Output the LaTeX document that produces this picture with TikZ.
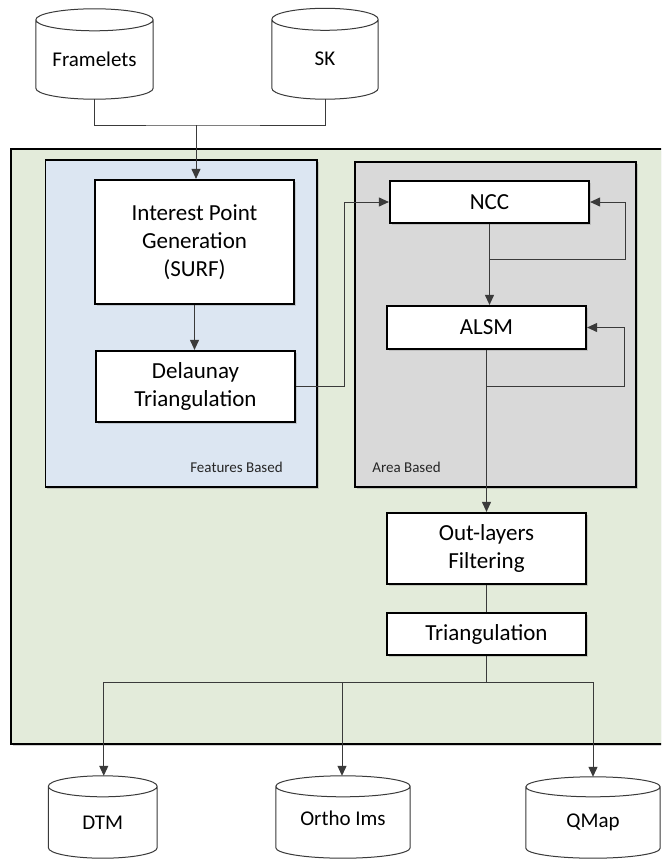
\documentclass[tikz,border=0pt]{standalone}
\usepackage{fontspec}
\setmainfont{Carlito}
\usetikzlibrary{arrows.meta,shadows,calc}
\definecolor{gfill}{HTML}{E3EBDA}
\definecolor{bfill}{HTML}{DCE6F2}
\definecolor{afill}{HTML}{D9D9D9}
\definecolor{cline}{HTML}{3A3A3A}
\tikzset{
  container/.style={draw=black, line width=1.8pt, inner sep=0pt,
    drop shadow={shadow xshift=1.5pt, shadow yshift=-1.5pt, opacity=0.35}},
  procbox/.style={draw=black, line width=2.2pt, fill=white, inner sep=0pt,
    minimum width=199pt, align=center, font=\fontsize{23}{28}\selectfont,
    drop shadow={shadow xshift=2pt, shadow yshift=-2pt, opacity=0.3}},
  cylnode/.style={inner sep=0pt, font=\fontsize{21}{25}\selectfont},
  conn/.style={draw=cline, line width=1pt},
  arr/.style={conn, -{Triangle[length=10pt,width=9pt]}},
  smalllbl/.style={font=\fontsize{15}{18}\selectfont, text=black!85, inner sep=0pt},
}
\newcommand\cylout[2]{%
  \draw[draw=cline, line width=1pt, fill=white]
    let \p1=(#1.north west), \p2=(#1.south east), \n1={(\x2-\x1)/2} in
    (\x1,\y1) -- (\x1,\y2+#2)
    arc[start angle=180, end angle=360, x radius=\n1, y radius=#2]
    -- (\x2,\y1)
    arc[start angle=0, end angle=180, x radius=\n1, y radius=#2] -- cycle
    (\x1,\y1) arc[start angle=180, end angle=360, x radius=\n1, y radius=#2];}
\begin{document}
\begin{tikzpicture}[x=1pt,y=-1pt]
\useasboundingbox (0,0) rectangle (661,859);
\clip (0,0) rectangle (661,859);
\fill[white] (0,0) rectangle (661,859);

% containers
\node[container, fill=gfill, minimum width=669pt, minimum height=595pt] (gbox) at (345.5,446.5) {};
\node[container, fill=bfill, line width=1.6pt, minimum width=271.5pt, minimum height=327pt] (fbox) at (181.25,323.5) {};
\node[container, fill=afill, line width=1.6pt, minimum width=281pt, minimum height=325pt] (abox) at (495.5,324.5) {};
\node[smalllbl] (fblabel) at (236.5,467) {Features Based};
\node[smalllbl] (ablabel) at (406.5,467) {Area Based};

% input cylinders
\node[cylnode, minimum width=117pt, minimum height=79pt] (fr) at (94.5,59.5) {};
\cylout{fr}{11pt}
\node[cylnode] at (fr.center) {Framelets};
\node[cylnode, minimum width=106pt, minimum height=79.5pt] (sk) at (325,59.25) {};
\cylout{sk}{11pt}
\node[cylnode] at (sk.center) {SK};

% process boxes
\node[procbox, minimum height=124pt] (ipg) at (194.5,242) {Interest Point\\Generation\\(SURF)};
\node[procbox, minimum height=71pt] (del) at (195.5,386.5) {Delaunay\\Triangulation};
\node[procbox, minimum height=42pt] (ncc) at (489.5,202) {NCC};
\node[procbox, minimum height=43pt] (alsm) at (486.5,327.5) {ALSM};
\node[procbox, minimum height=71pt] (outf) at (486.5,548.5) {Out-layers\\Filtering};
\node[procbox, minimum height=42pt] (tri) at (486.5,634) {Triangulation};

% output cylinders
\node[cylnode, minimum width=108.5pt, minimum height=71.5pt] (dtm) at (102.75,822.25) {};
\cylout{dtm}{10.5pt}
\node[cylnode] at ([yshift=-1pt]dtm.center) {DTM};
\node[cylnode, minimum width=134pt, minimum height=71.5pt] (orth) at (343,822.25) {};
\cylout{orth}{10.5pt}
\node[cylnode] at ([yshift=4pt]orth.center) {Ortho Ims};
\node[cylnode, minimum width=134pt, minimum height=71pt] (qmap) at (593,822.5) {};
\cylout{qmap}{10pt}
\node[cylnode] at (qmap.center) {QMap};

% connectors
\coordinate (join) at (196,125);
\draw[conn] (fr.south) |- (join) -| (sk.south);
\draw[arr] (join) -- (join |- ipg.north);
\draw[arr] (ipg.south) -- (ipg.south |- del.north);
\draw[arr] (del.east) -- ++(48,0) |- (ncc.west);
\draw[arr] (ncc.south) -- (ncc.south |- alsm.north);
\draw[arr] (ncc.south) ++(0,35) -| ([xshift=35pt]ncc.east) -- (ncc.east);
\draw[arr] (alsm.south) -- (alsm.south |- outf.north);
\draw[arr] (alsm.south) ++(0,36) -| ([xshift=37pt]alsm.east) -- (alsm.east);
\draw[conn] (outf.south) -- (tri.north);
\coordinate (split) at ($(tri.south)+(0,26)$);
\draw[conn] (tri.south) -- (split);
\draw[arr] (split) -| ([xshift=1pt,yshift=10.5pt]dtm.north);
\draw[arr] (split) -| ([xshift=-1pt,yshift=10.5pt]orth.north);
\draw[arr] (split) -| ([yshift=10pt]qmap.north);
\end{tikzpicture}
\end{document}
